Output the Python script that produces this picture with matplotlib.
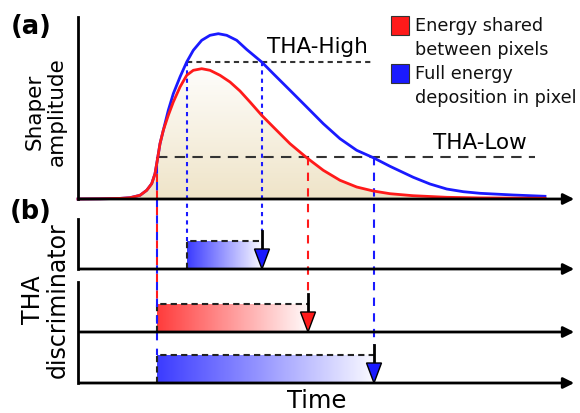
import numpy as np
import matplotlib.pyplot as plt
from matplotlib.patches import Rectangle, Polygon
from matplotlib.colors import LinearSegmentedColormap

# pulse shapes (pixel units: x = time, y = amplitude, y grows downwards)
red_x = [78, 100, 120, 130, 140, 146.7, 151.7, 155, 157.3, 160, 163.3, 168.3, 173.3, 180,
         186.7, 193.3, 201.7, 210, 220, 230, 240, 250, 261.7, 273.3, 290, 306.7, 323.3, 340,
         356.7, 373.3, 390, 413, 446.7, 480, 545]
red_y = [200, 199.8, 199.4, 198.7, 196.3, 191.3, 184.7, 174.7, 161.3, 144.7, 131.3, 116.3,
         103, 88, 76.3, 71.3, 69.7, 71.3, 76.3, 83, 92, 103, 116.3, 128, 144.7, 158.7,
         171.3, 181.3, 188, 192, 194.7, 196.7, 198.3, 198.9, 199.3]
blue_x = [78, 100, 120, 130, 140, 146.7, 151.7, 155, 157.3, 160, 163.3, 168.3, 173.3, 180,
          186.7, 193.3, 201.7, 210, 218.3, 226.7, 236.7, 246.7, 261.7, 273.3, 290, 306.7,
          323.3, 340, 356.7, 373.3, 390, 413.3, 430, 446.7, 463.3, 480, 513.3, 545]
blue_y = [200, 199.8, 199.4, 198.7, 196.3, 191.3, 184.7, 174.7, 161.3, 144.7, 131.3, 111.3,
          94.7, 78, 63, 51.3, 41.3, 36.3, 34.7, 36.3, 41.3, 50.5, 63, 74.7, 91.3, 108,
          124.7, 139.7, 151.3, 158.7, 167.3, 178.3, 185, 190, 192.7, 194.3, 196, 197.3]

tha_high = 63
tha_low = 158
# threshold crossing times
red_low_on, red_low_off = 157, 308
blue_low_on, blue_low_off = 157, 374
blue_high_on, blue_high_off = 187, 262

RED = '#ff1a1a'
BLUE = '#1a1aff'

fig = plt.figure(figsize=(5.8, 4.14), dpi=100)
ax = fig.add_axes([0, 0, 1, 1])
ax.set_xlim(0, 580)
ax.set_ylim(414, 0)
ax.axis('off')

x0 = 78
x_end = 577
ax_a = 200          # baseline of panel (a)
rows = [270, 333, 384]  # baselines of panel (b)
bar_h = 28

# beige shading under the red pulse
beige = LinearSegmentedColormap.from_list('beige', ['#ffffff', '#efe4c8'])
im = ax.imshow(np.linspace(0, 1, 256)[:, None], cmap=beige, aspect='auto',
               extent=(x0, 545, ax_a, 60), zorder=0)
clip = Polygon(list(zip(red_x, red_y)) + [(545, ax_a), (x0, ax_a)], closed=True,
               transform=ax.transData, facecolor='none', edgecolor='none')
ax.add_patch(clip)
im.set_clip_path(clip)

ax.plot(blue_x, blue_y, color=BLUE, lw=2, zorder=3, solid_joinstyle='round')
ax.plot(red_x, red_y, color=RED, lw=2, zorder=4, solid_joinstyle='round')

# threshold lines
ax.plot([blue_high_on, 372], [tha_high, tha_high], color='#333333', lw=1.5, ls=(0, (2.5, 2)), zorder=2)
ax.plot([red_low_on, 535], [tha_low, tha_low], color='#333333', lw=1.5, ls=(0, (5, 3.5)), zorder=2)
ax.text(267, 47, 'THA-High', fontsize=15.5, va='center', ha='left')
ax.text(433, 143, 'THA-Low', fontsize=15.5, va='center', ha='left')

# axes of panel (a)
ax.plot([x0, x0], [18, ax_a], color='k', lw=2, zorder=5)
ax.annotate('', xy=(x_end, ax_a), xytext=(x0 - 1, ax_a),
            arrowprops=dict(arrowstyle='-|>', color='k', lw=2, mutation_scale=16), zorder=5)

# axes of panel (b)
ax.plot([x0, x0], [220, rows[0]], color='k', lw=2)
ax.plot([x0, x0], [283, rows[2]], color='k', lw=2)
for yb in rows:
    ax.annotate('', xy=(x_end, yb), xytext=(x0 - 1, yb),
                arrowprops=dict(arrowstyle='-|>', color='k', lw=2, mutation_scale=16), zorder=5)

# discriminator windows
windows = [(blue_high_on, blue_high_off, rows[0], '#3c3cff'),
           (red_low_on, red_low_off, rows[1], '#ff3c3c'),
           (blue_low_on, blue_low_off, rows[2], '#3c3cff')]
for (t0, t1, yb, col) in windows:
    cmap = LinearSegmentedColormap.from_list('g', [col, '#ffffff'])
    ax.imshow(np.linspace(0, 0.97, 256)[None, :], cmap=cmap, vmin=0, vmax=1, aspect='auto',
              extent=(t0, t1, yb, yb - bar_h), zorder=1)
    ax.plot([t0, t0, t1], [yb, yb - bar_h, yb - bar_h], color='#222222', lw=1.5,
            ls=(0, (3, 2)), zorder=2)
    fill = BLUE if col == '#3c3cff' else RED
    ax.plot([t1, t1], [yb - bar_h - 10, yb - 19], color='k', lw=2, zorder=6)
    ax.add_patch(Polygon([(t1 - 7.5, yb - 20), (t1 + 7.5, yb - 20), (t1, yb)], closed=True,
                         facecolor=fill, edgecolor='k', lw=1, zorder=7))

# guide lines from the crossings down to the windows
ax.plot([red_low_on, red_low_on], [tha_low, rows[1] - bar_h], color=RED, lw=1.5,
        ls=(0, (4, 4)), zorder=2)
ax.plot([blue_low_on, blue_low_on], [tha_low, rows[2] - bar_h], color=BLUE, lw=1.5,
        ls=(4, (4, 4)), zorder=2)
ax.plot([red_low_off, red_low_off], [tha_low, rows[1] - bar_h - 10], color=RED, lw=1.5,
        ls=(0, (4, 3.5)), zorder=2)
ax.plot([blue_low_off, blue_low_off], [tha_low, rows[2] - bar_h - 10], color=BLUE, lw=1.5,
        ls=(0, (4, 3.5)), zorder=2)
for t in (blue_high_on, blue_high_off):
    ax.plot([t, t], [tha_high, rows[0] - bar_h - (10 if t == blue_high_off else 0)],
            color=BLUE, lw=1.5, ls=(0, (2, 2)), zorder=2)

# legend
ax.add_patch(Rectangle((391, 17), 18, 19, facecolor=RED, edgecolor='#333333', lw=0.8))
ax.add_patch(Rectangle((391, 65), 18, 19, facecolor=BLUE, edgecolor='#333333', lw=0.8))
ax.text(415, 26, 'Energy shared', fontsize=12.7, va='center', color='#111111')
ax.text(415, 50, 'between pixels', fontsize=12.7, va='center', color='#111111')
ax.text(415, 74, 'Full energy', fontsize=12.7, va='center', color='#111111')
ax.text(415, 98, 'deposition in pixel', fontsize=12.7, va='center', color='#111111')

# labels
ax.text(31, 27, '(a)', fontsize=18.5, fontweight='bold', ha='center', va='center')
ax.text(31, 212, '(b)', fontsize=18.5, fontweight='bold', ha='center', va='center')
ax.text(46, 112, 'Shaper\namplitude', fontsize=15.5, rotation=90, ha='center', va='center',
        linespacing=1.15)
ax.text(45, 300, 'THA\ndiscriminator', fontsize=17, rotation=90, ha='center', va='center',
        linespacing=1.05)
ax.text(317, 401, 'Time', fontsize=17.5, ha='center', va='center')

fig.savefig('out.png', dpi=100)
